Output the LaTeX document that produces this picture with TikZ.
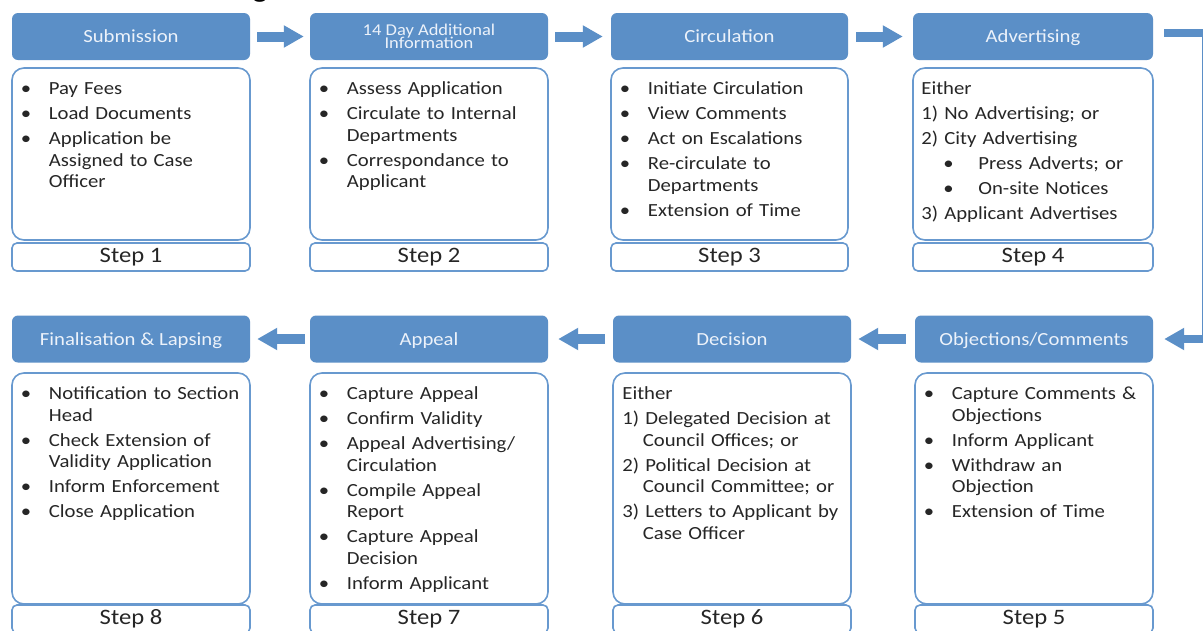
\documentclass[tikz,border=0pt]{standalone}
\usepackage{fontspec}
\setmainfont{Carlito}[FakeStretch=1.12]
\usetikzlibrary{arrows.meta}
\definecolor{hdrblue}{RGB}{91,143,199}
\definecolor{lineblue}{RGB}{104,153,207}
\definecolor{hdrtext}{RGB}{236,242,250}
\definecolor{bodytext}{RGB}{38,38,38}
\newlength\hng \setlength\hng{28.5pt}
\newcommand\bfs{\fontsize{18.5}{21.5}\selectfont}
\newcommand\hdrsmall{\fontsize{16.5}{13.5}\selectfont\lineskiplimit=-8pt\relax}
\newcommand\nl{\hfil\break}
\newcommand\bitm[1]{\par\parskip=3.5pt\hangindent=\hng\hangafter=1\noindent\strut\makebox[\hng][l]{\hspace{0.5pt}\textbullet}#1}
\newcommand\nitm[1]{\par\parskip=3.5pt\hangindent=20.5pt\hangafter=1\noindent\strut #1}
\newcommand\sitm[1]{\par\parskip=3.5pt\noindent\strut\hspace{22pt}\makebox[35pt][l]{\textbullet}#1}
\tikzset{
  hdr/.style={fill=hdrblue, draw=none, rounded corners=6pt, minimum height=47pt,
    text=hdrtext, font=\fontsize{18.5}{21}\selectfont, inner sep=0pt,
    text height=12pt, text depth=0pt},
  cbox/.style={fill=white, draw=lineblue, line width=1.6pt, rounded corners=12pt, inner sep=0pt},
  sbox/.style={fill=white, draw=lineblue, line width=1.6pt, rounded corners=5pt,
    minimum height=28pt, inner sep=0pt, text=bodytext, font=\fontsize{22}{24}\selectfont},
  btext/.style={anchor=north west, inner sep=0pt, text width=250pt,
    text=bodytext, font=\bfs},
  barrow/.style={draw=hdrblue, line width=10pt, -{Triangle[width=21pt,length=20pt]}},
}
\begin{document}
\begin{tikzpicture}[x=1pt,y=-1pt]
\clip (0,0) rectangle (1203,630);
\fill[white] (0,0) rectangle (1203,630);

\node[anchor=base, inner sep=0pt, text=black] (gfrag) at (260,-2.5) {\fontsize{28}{30}\selectfont g};

% top row
\node[hdr, minimum width=238pt] (h1) at (131,36.5) {Submission};
\node[hdr, minimum width=238pt, align=center, font=\hdrsmall, text height=, text depth=] (h2) at (429,36.5) {14 Day Additional\\Information};
\node[hdr, minimum width=237pt] (h3) at (729.5,36.5) {Circulation};
\node[hdr, minimum width=240pt] (h4) at (1033,36.5) {Advertising};

\node[cbox, minimum width=238pt, minimum height=172pt] (b1) at (131,154) {};
\node[cbox, minimum width=238pt, minimum height=172pt] (b2) at (429,154) {};
\node[cbox, minimum width=237pt, minimum height=172pt] (b3) at (729.5,154) {};
\node[cbox, minimum width=240pt, minimum height=172pt] (b4) at (1033,154) {};

\node[sbox, minimum width=238pt] (s1) at (131,257) {Step 1};
\node[sbox, minimum width=238pt] (s2) at (429,257) {Step 2};
\node[sbox, minimum width=237pt] (s3) at (729.5,257) {Step 3};
\node[sbox, minimum width=240pt] (s4) at (1033,257) {Step 4};

% bottom row
\node[hdr, minimum width=238pt] (h8) at (131,339) {Finalisation \& Lapsing};
\node[hdr, minimum width=238pt] (h7) at (429,339) {Appeal};
\node[hdr, minimum width=238pt] (h6) at (732,339) {Decision};
\node[hdr, minimum width=238pt] (h5) at (1034,339) {Objections/Comments};

\node[cbox, minimum width=238pt, minimum height=231pt] (b8) at (131,488.5) {};
\node[cbox, minimum width=238pt, minimum height=231pt] (b7) at (429,488.5) {};
\node[cbox, minimum width=238pt, minimum height=231pt] (b6) at (732,488.5) {};
\node[cbox, minimum width=238pt, minimum height=231pt] (b5) at (1034,488.5) {};

\node[sbox, minimum width=238pt] (s8) at (131,619) {Step 8};
\node[sbox, minimum width=238pt] (s7) at (429,619) {Step 7};
\node[sbox, minimum width=238pt] (s6) at (732,619) {Step 6};
\node[sbox, minimum width=238pt] (s5) at (1034,619) {Step 5};

% texts
\node[btext] (t1) at ([xshift=9pt,yshift=-2.5pt]b1.north west) {%
\bitm{Pay Fees}\bitm{Load Documents}\bitm{Application be\nl Assigned to Case\nl Officer}\par};
\node[btext] (t2) at ([xshift=9pt,yshift=-2.5pt]b2.north west) {%
\bitm{Assess Application}\bitm{Circulate to Internal\nl Departments}\bitm{Correspondance to\nl Applicant}\par};
\node[btext] (t3) at ([xshift=9pt,yshift=-2.5pt]b3.north west) {%
\bitm{Initiate Circulation}\bitm{View Comments}\bitm{Act on Escalations}\bitm{Re-circulate to\nl Departments}\bitm{Extension of Time}\par};
\node[btext] (t4) at ([xshift=9pt,yshift=-2.5pt]b4.north west) {%
\nitm{Either}\nitm{1) No Advertising; or}\nitm{2) City Advertising}\sitm{Press Adverts; or}\sitm{On-site Notices}\nitm{3) Applicant Advertises}\par};
\node[btext] (t5) at ([xshift=9pt,yshift=-2.5pt]b5.north west) {%
\bitm{Capture Comments \&\nl Objections}\bitm{Inform Applicant}\bitm{Withdraw an\nl Objection}\bitm{Extension of Time}\par};
\node[btext] (t6) at ([xshift=10pt,yshift=-2.5pt]b6.north west) {%
\nitm{Either}\nitm{1) Delegated Decision at\nl Council Offices; or}\nitm{2) Political Decision at\nl Council Committee; or}\nitm{3) Letters to Applicant by\nl Case Officer}\par};
\node[btext] (t7) at ([xshift=9pt,yshift=-2.5pt]b7.north west) {%
\bitm{Capture Appeal}\bitm{Confirm Validity}\bitm{Appeal Advertising/\nl Circulation}\bitm{Compile Appeal\nl Report}\bitm{Capture Appeal\nl Decision}\bitm{Inform Applicant}\par};
\node[btext] (t8) at ([xshift=9pt,yshift=-2.5pt]b8.north west) {%
\bitm{Notification to Section\nl Head}\bitm{Check Extension of\nl Validity Application}\bitm{Inform Enforcement}\bitm{Close Application}\par};

% arrows
\draw[barrow] ([xshift=7pt]h1.east) -- ([xshift=-6pt]h2.west);
\draw[barrow] ([xshift=7pt]h2.east) -- ([xshift=-8pt]h3.west);
\draw[barrow] ([xshift=8pt]h3.east) -- ([xshift=-10pt]h4.west);
\coordinate (c1) at (1206,33);
\coordinate (c2) at (1206,339);
\draw[barrow, line width=8pt, line join=miter] ([xshift=11pt,yshift=3.5pt]h4.east) -- (c1) -- (c2) -- ([xshift=11pt]h5.east);
\draw[barrow] ([xshift=-9pt]h5.west) -- ([xshift=7pt]h6.east);
\draw[barrow] ([xshift=-8pt]h6.west) -- ([xshift=10pt]h7.east);
\draw[barrow] ([xshift=-5pt]h7.west) -- ([xshift=7pt]h8.east);
\end{tikzpicture}
\end{document}
